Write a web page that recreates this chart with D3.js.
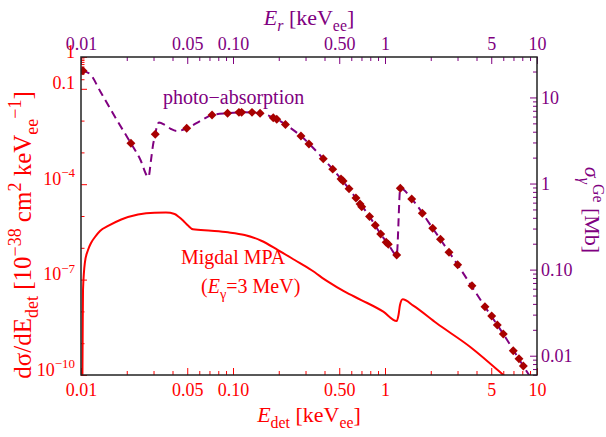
<!DOCTYPE html>
<html>
<head>
<meta charset="utf-8">
<script src="https://cdn.jsdelivr.net/npm/d3@7"></script>
<style>
  body { margin: 0; background: #fff; }
  text { font-family: "Liberation Serif", "Times New Roman", serif; }
</style>
</head>
<body>
<script>
// chart values

// photo-absorption cross section (dashed curve), E in keVee, sigma in Mb
var photoCurveE = [0.01015, 0.01146, 0.01334, 0.01675, 0.0213, 0.02445, 0.0278, 0.02888, 0.02977, 0.0308,
  0.0316, 0.0326, 0.0357, 0.0391, 0.0428, 0.0496, 0.0607, 0.0728, 0.0921, 0.120, 0.1507, 0.194, 0.2213,
  0.280, 0.3926, 0.5136, 0.644, 0.791, 0.937, 1.051, 1.194, 1.261, 1.499, 2.060, 3.006, 4.546, 6.00, 8.13, 9.13];
var photoCurveSigma = [20.5, 18.7, 11.9, 5.92, 2.93, 1.93, 1.19, 1.875, 2.80, 3.73,
  4.65, 5.11, 4.78, 4.30, 4.07, 4.38, 5.32, 6.25, 6.55, 6.73, 6.54, 5.58, 4.85,
  3.56, 1.94, 1.13, 0.679, 0.414, 0.259, 0.197, 0.148, 0.882, 0.661, 0.302, 0.1137, 0.0371, 0.01787, 0.00759, 0.0055];

// photo-absorption data points (diamonds)
var photoPointsE = [0.0103, 0.0213, 0.0308, 0.0496, 0.0728, 0.0921, 0.1094, 0.114, 0.1334, 0.1507,
  0.184, 0.194, 0.2213, 0.280, 0.316, 0.3926, 0.453, 0.5136, 0.530, 0.580, 0.644, 0.685, 0.703,
  0.791, 0.863, 0.937, 1.018, 1.051, 1.194, 1.261, 1.499, 1.760, 2.060, 2.317, 2.636, 3.006,
  3.735, 4.546, 5.035, 5.48, 6.00, 6.98, 7.61, 8.13];
var photoPointsSigma = [20.4, 2.93, 3.73, 4.38, 6.25, 6.55, 6.71, 6.71, 6.71, 6.54,
  5.81, 5.58, 4.85, 3.56, 2.88, 1.94, 1.47, 1.13, 1.07, 0.870, 0.679, 0.578, 0.538,
  0.414, 0.327, 0.259, 0.208, 0.197, 0.148, 0.882, 0.661, 0.452, 0.302, 0.2255, 0.159, 0.1137,
  0.0648, 0.0371, 0.0289, 0.0227, 0.01787, 0.01143, 0.00923, 0.00759];

// Migdal MPA rate, 10^-38 cm^2 keVee^-1
var migdalE = [0.01022, 0.01026, 0.01031, 0.01062, 0.01112, 0.01164, 0.01236, 0.01334, 0.01507, 0.0184,
  0.0237, 0.0305, 0.0362, 0.0413, 0.0441, 0.0469, 0.0506, 0.0545, 0.0720, 0.0927, 0.1193, 0.1535,
  0.1976, 0.2547, 0.3273, 0.4217, 0.543, 0.698, 0.9745, 1.194, 1.227, 1.255, 1.307, 1.535, 2.188,
  3.622, 6.00, 6.64];
var migdalRate = [1e-10, 2.6e-9, 4.7e-8, 3.57e-7, 8.5e-7, 1.42e-6, 2.19e-6, 3.38e-6, 4.85e-6, 7.76e-6,
  1.114e-5, 1.27e-5, 1.28e-5, 1.156e-5, 9.3e-6, 7.2e-6, 5.0e-6, 3.82e-6, 3.45e-6, 3.07e-6, 2.53e-6, 1.67e-6,
  8.5e-7, 4.13e-7, 2.0e-7, 8.6e-8, 4.16e-8, 2.28e-8, 9.8e-9, 4.99e-9, 7.7e-9, 1.59e-8, 2.4e-8, 1.51e-8, 4.22e-9,
  7.76e-10, 1e-10, 6.5e-11];

// ticks
var xTickValues = [0.01, 0.05, 0.1, 0.5, 1, 5, 10];
var xTickLabels = ["0.01", "0.05", "0.10", "0.50", "1", "5", "10"];
var leftTickValues = [1, 0.1, 1e-4, 1e-7, 1e-10];
var leftTickLabels = [["1", ""], ["0.1", ""], ["10", "\u22124"], ["10", "\u22127"], ["10", "\u221210"]];
var leftMinorTicks = [0.9, 0.8, 0.7, 0.6, 0.5, 0.4, 0.3, 0.2, 1e-2, 1e-3, 1e-5, 1e-6, 1e-8, 1e-9];
var rightTickValues = [10, 1, 0.1, 0.01];
var rightTickLabels = ["10", "1", "0.10", "0.01"];

// colours
var red = "#ff0000";
var purple = "#800080";
var darkRed = "#a80000";

//chart dimensions
var svgWidth = 606;
var svgHeight = 437;

var margin = {
  top: 57,
  right: 69,
  bottom: 62,
  left: 81
};

var chartWidth = svgWidth - margin.left - margin.right;
var chartHeight = svgHeight - margin.top - margin.bottom;

var svg = d3.select("body")
  .append("svg")
  .attr("width", svgWidth)
  .attr("height", svgHeight);

var chartGroup = svg.append("g")
  .attr("transform", `translate(${margin.left}, ${margin.top})`);

// scales
var xScale = d3.scaleLog().domain([0.01, 10]).range([0, chartWidth]);
var yLeft = d3.scaleLog().domain([1e-10, 1]).range([chartHeight, 0]);
var yRight = d3.scaleLog().domain([0.00597, 29.5]).range([chartHeight, 0]);

// minor ticks for x and right axis
var xMinorTicks = [];
[0.01, 0.1, 1].forEach(function(dec) {
  [2, 3, 4, 6, 7, 8, 9].forEach(function(m) { xMinorTicks.push(dec * m); });
});
var rightMinorTicks = [];
[0.001, 0.01, 0.1, 1, 10].forEach(function(dec) {
  [2, 3, 4, 5, 6, 7, 8, 9].forEach(function(m) {
    var v = dec * m;
    if (v >= 0.00597 && v <= 29.5) rightMinorTicks.push(v);
  });
});

// small helper for sub/superscripts
function richText(sel, parts, size, supShift) {
  var shift = 0;
  var up = supShift || 0.42;
  parts.forEach(function(p) {
    var target = p.s === "sub" ? 0.28 * size : p.s === "sup" ? -up * size : 0;
    var t = sel.append("tspan").text(p.t).attr("dy", target - shift);
    shift = target;
    if (p.s) t.attr("font-size", size * 0.72);
    if (p.i) t.attr("font-style", "italic");
  });
}

function styleAxis(g, color) {
  g.attr("font-family", null).attr("font-size", null);
  g.select(".domain").remove();
  g.selectAll("line").attr("stroke", color).attr("stroke-width", 1);
  g.selectAll("text").attr("fill", color).style("font-size", "18px");
}

// bottom axis
var bottomAxis = d3.axisBottom(xScale).tickValues(xTickValues)
  .tickFormat((d, i) => xTickLabels[i]).tickSize(-7).tickPadding(8);
chartGroup.append("g").attr("transform", `translate(0, ${chartHeight})`)
  .call(bottomAxis).call(g => styleAxis(g, red));
chartGroup.append("g").attr("transform", `translate(0, ${chartHeight})`)
  .call(d3.axisBottom(xScale).tickValues(xMinorTicks).tickFormat("").tickSize(-4))
  .call(g => styleAxis(g, red));

// top axis
var topAxis = d3.axisTop(xScale).tickValues(xTickValues)
  .tickFormat((d, i) => xTickLabels[i]).tickSize(-7).tickPadding(7);
chartGroup.append("g").call(topAxis).call(g => styleAxis(g, purple));
chartGroup.append("g")
  .call(d3.axisTop(xScale).tickValues(xMinorTicks).tickFormat("").tickSize(-4))
  .call(g => styleAxis(g, purple));

// left axis
var leftAxis = d3.axisLeft(yLeft).tickValues(leftTickValues).tickFormat("").tickSize(-6).tickPadding(6);
var leftG = chartGroup.append("g").call(leftAxis).call(g => styleAxis(g, red));
leftG.selectAll(".tick text").each(function(d, i) {
  var t = d3.select(this).text(null).attr("dy", "0.33em");
  richText(t, [{t: leftTickLabels[i][0]}, {t: leftTickLabels[i][1], s: "sup"}], 18);
});
chartGroup.append("g")
  .call(d3.axisLeft(yLeft).tickValues(leftMinorTicks).tickFormat("").tickSize(-3.5))
  .call(g => styleAxis(g, red));

// right axis
var rightAxis = d3.axisRight(yRight).tickValues(rightTickValues)
  .tickFormat((d, i) => rightTickLabels[i]).tickSize(-7).tickPadding(4);
chartGroup.append("g").attr("transform", `translate(${chartWidth}, 0)`)
  .call(rightAxis).call(g => styleAxis(g, purple));
chartGroup.append("g").attr("transform", `translate(${chartWidth}, 0)`)
  .call(d3.axisRight(yRight).tickValues(rightMinorTicks).tickFormat("").tickSize(-4))
  .call(g => styleAxis(g, purple));

// clip
chartGroup.append("clipPath").attr("id", "plotClip")
  .append("rect").attr("width", chartWidth).attr("height", chartHeight);

var plotArea = chartGroup.append("g").attr("clip-path", "url(#plotClip)");

// Migdal curve
var migdalLine = d3.line()
  .x((d, i) => xScale(migdalE[i]))
  .y(d => yLeft(d))
  .curve(d3.curveMonotoneX);
plotArea.append("path")
  .attr("d", migdalLine(migdalRate))
  .attr("fill", "none")
  .attr("stroke", red)
  .attr("stroke-width", 2);

// photo-absorption curve
var photoLine = d3.line()
  .x((d, i) => xScale(photoCurveE[i]))
  .y(d => yRight(d))
  .curve(d3.curveMonotoneX);
plotArea.append("path")
  .attr("d", photoLine(photoCurveSigma))
  .attr("fill", "none")
  .attr("stroke", purple)
  .attr("stroke-width", 2)
  .attr("stroke-dasharray", "8,5");

// data diamonds
var diamond = d3.symbol().type(d3.symbolSquare).size(40);
plotArea.selectAll(".pt")
  .data(photoPointsSigma)
  .enter()
  .append("path")
  .attr("class", "pt")
  .attr("d", diamond)
  .attr("transform", (d, i) => `translate(${xScale(photoPointsE[i])}, ${yRight(d)}) rotate(45)`)
  .attr("fill", darkRed);

// frame
chartGroup.append("rect")
  .attr("width", chartWidth)
  .attr("height", chartHeight)
  .attr("fill", "none")
  .attr("stroke", "#222")
  .attr("stroke-width", 1.5);

// annotations
chartGroup.append("text")
  .attr("x", xScale(0.0346)).attr("y", 104 - margin.top)
  .attr("fill", purple).style("font-size", "20px")
  .text("photo\u2212absorption");

chartGroup.append("text")
  .attr("x", xScale(0.0455)).attr("y", 264 - margin.top)
  .attr("fill", red).style("font-size", "20px")
  .text("Migdal MPA");
var evLabel = chartGroup.append("text")
  .attr("x", xScale(0.0616)).attr("y", 293 - margin.top)
  .attr("fill", red).style("font-size", "20px");
richText(evLabel, [{t: "("}, {t: "E", i: true}, {t: "\u03b3", s: "sub"}, {t: "=3 MeV)"}], 20);

// axis titles
var bottomTitle = svg.append("text")
  .attr("x", margin.left + chartWidth / 2).attr("y", 422)
  .attr("text-anchor", "middle").attr("fill", red).style("font-size", "22px");
richText(bottomTitle, [{t: "E", i: true}, {t: "det", s: "sub"}, {t: " [keV"}, {t: "ee", s: "sub"}, {t: "]"}], 22);

var topTitle = svg.append("text")
  .attr("x", margin.left + chartWidth / 2).attr("y", 25)
  .attr("text-anchor", "middle").attr("fill", purple).style("font-size", "22px");
richText(topTitle, [{t: "E", i: true}, {t: "r", s: "sub", i: true}, {t: " [keV"}, {t: "ee", s: "sub"}, {t: "]"}], 22);

var leftTitle = svg.append("text")
  .attr("transform", "translate(31, 235) rotate(-90)")
  .attr("text-anchor", "middle").attr("fill", red).style("font-size", "25px");
richText(leftTitle, [{t: "d\u03c3/dE"}, {t: "det", s: "sub"}, {t: " [10"}, {t: "\u221238", s: "sup"},
  {t: " cm"}, {t: "2", s: "sup"}, {t: " keV"}, {t: "ee", s: "sub"}, {t: "\u22121", s: "sup"}, {t: "]"}], 25);

var rightTitle = svg.append("text")
  .attr("transform", "translate(585, 210) rotate(90)")
  .attr("text-anchor", "middle").attr("fill", purple).style("font-size", "22px");
richText(rightTitle, [{t: "\u03c3", i: true}, {t: "\u03b3", s: "sub", i: true}, {t: "Ge", s: "sup"}, {t: " [Mb]"}], 22, 0.36);
</script>
</body>
</html>
